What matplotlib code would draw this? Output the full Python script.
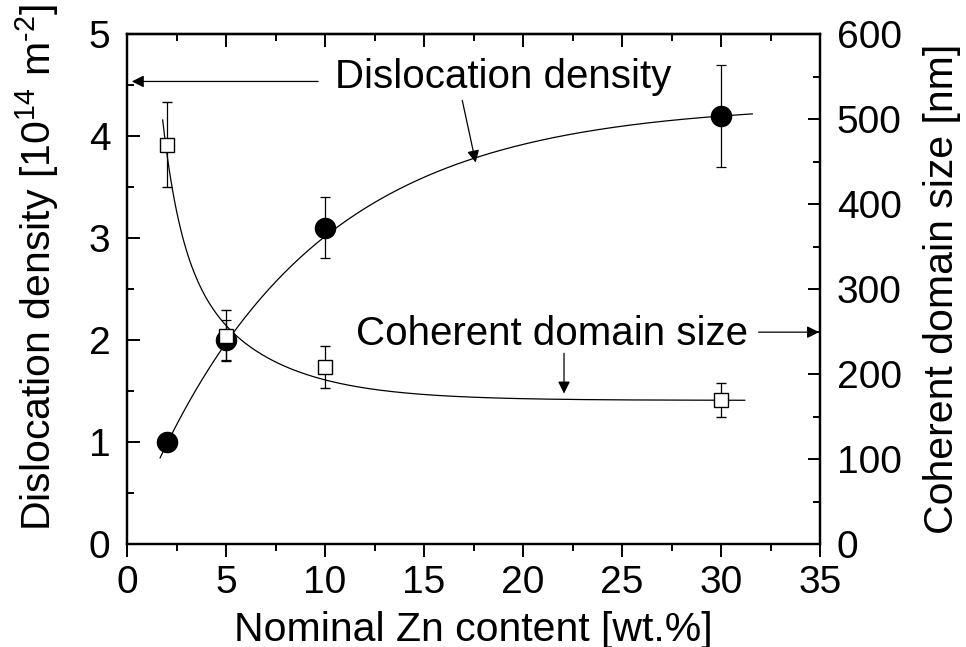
import numpy as np
import matplotlib
matplotlib.use("Agg")
import matplotlib.pyplot as plt
from matplotlib.ticker import MultipleLocator

plt.rcParams['font.family'] = ['Liberation Sans', 'DejaVu Sans']
plt.rcParams['mathtext.fontset'] = 'custom'
plt.rcParams['mathtext.rm'] = 'Liberation Sans'
plt.rcParams['mathtext.it'] = 'Liberation Sans'

# Measured values
zn_content = [2, 5, 10, 30]                 # wt.%
disloc_density = [1.0, 2.0, 3.1, 4.2]       # 10^14 m^-2
disloc_err = [0.05, 0.2, 0.3, 0.5]
domain_size = [470, 245, 208, 170]          # nm
domain_err = [50, 30, 25, 20]

# Fitted trend curves
disloc_fit = dict(A=4.32, B=4.23, t=8.5, x_min=1.67, x_max=31.58)            # A - B*exp(-x/t)
domain_fit = dict(y0=169, A1=1043, t1=0.906, A2=293, t2=4.0, x_min=1.8, x_max=31.2)  # ExpDec2

FS_TICK = 28
FS_LABEL = 29.5
FS_NOTE = 29
fig = plt.figure(figsize=(9.66, 6.47), dpi=100)
ax = fig.add_axes([0.1315, 0.1592, 0.8489 - 0.1315, 0.9474 - 0.1592])
ax2 = ax.twinx()

# Dislocation density (left axis)
xf = np.linspace(disloc_fit['x_min'], disloc_fit['x_max'], 300)
ax.plot(xf, disloc_fit['A'] - disloc_fit['B'] * np.exp(-xf / disloc_fit['t']),
        color='black', lw=0.9, zorder=2)
ax.errorbar(zn_content, disloc_density, yerr=disloc_err, fmt='o', color='black',
            ms=14.5, elinewidth=0.9, capsize=3.8, capthick=0.9, zorder=3)

# Coherent domain size (right axis)
xf2 = np.linspace(domain_fit['x_min'], domain_fit['x_max'], 300)
yf2 = (domain_fit['y0'] + domain_fit['A1'] * np.exp(-xf2 / domain_fit['t1'])
       + domain_fit['A2'] * np.exp(-xf2 / domain_fit['t2']))
ax2.plot(xf2, yf2, color='black', lw=0.9, zorder=2)
ax2.errorbar(zn_content, domain_size, yerr=domain_err, fmt='s', color='black',
             mfc='white', mec='black', mew=1.0, ms=10.5, elinewidth=0.9,
             capsize=3.8, capthick=0.9, zorder=3)

# Axes limits and ticks
ax.set_xlim(0, 35)
ax.set_ylim(0, 5)
ax2.set_ylim(0, 600)
ax.xaxis.set_major_locator(MultipleLocator(5))
ax.xaxis.set_minor_locator(MultipleLocator(2.5))
ax.yaxis.set_major_locator(MultipleLocator(1))
ax.yaxis.set_minor_locator(MultipleLocator(0.5))
ax2.yaxis.set_major_locator(MultipleLocator(100))
ax2.yaxis.set_minor_locator(MultipleLocator(50))

for a in (ax, ax2):
    for s in a.spines.values():
        s.set_linewidth(1.6)

ax.tick_params(axis='x', which='major', direction='out', length=9, width=1.4,
               labelsize=FS_TICK, pad=6, top=False)
ax.tick_params(axis='x', which='minor', direction='out', length=5, width=1.4, top=False)
ax.tick_params(axis='y', which='major', direction='in', length=9, width=1.4,
               labelsize=FS_TICK, pad=12)
ax.tick_params(axis='y', which='minor', direction='in', length=5, width=1.4)
ax2.tick_params(axis='y', which='major', direction='in', length=9, width=1.4,
                labelsize=FS_TICK, pad=12)
ax2.tick_params(axis='y', which='minor', direction='in', length=5, width=1.4)

top = ax.secondary_xaxis('top')
top.xaxis.set_major_locator(MultipleLocator(5))
top.xaxis.set_minor_locator(MultipleLocator(2.5))
top.tick_params(which='major', direction='in', length=9, width=1.4, labeltop=False)
top.tick_params(which='minor', direction='in', length=5, width=1.4)
top.spines['top'].set_linewidth(1.6)

ax.set_xlabel('Nominal Zn content [wt.%]', fontsize=FS_LABEL, labelpad=7)
ax.set_ylabel('Dislocation density [10$^{14}$ m$^{\u2010 2}$]', fontsize=FS_LABEL)
ax.yaxis.set_label_coords(-0.095, 0.541)
ax2.set_ylabel('Coherent domain size [nm]', fontsize=FS_LABEL, labelpad=15)

# Annotations
arrow = dict(arrowstyle='-|>', color='black', lw=0.9, mutation_scale=18, shrinkA=0, shrinkB=0)
ax.text(10.5, 4.475, 'Dislocation density', fontsize=FS_NOTE, ha='left', va='baseline')
ax.annotate('', xy=(0.24, 4.535), xytext=(9.65, 4.535), arrowprops=arrow)
ax.annotate('', xy=(17.61, 3.74), xytext=(16.93, 4.35), arrowprops=arrow)

ax.text(11.57, 1.947, 'Coherent domain size', fontsize=FS_NOTE, ha='left', va='baseline')
ax.annotate('', xy=(34.95, 2.077), xytext=(31.9, 2.077), arrowprops=arrow, annotation_clip=False)
ax.annotate('', xy=(22.07, 1.475), xytext=(22.07, 1.87), arrowprops=arrow)

fig.savefig('out.png', dpi=100)
